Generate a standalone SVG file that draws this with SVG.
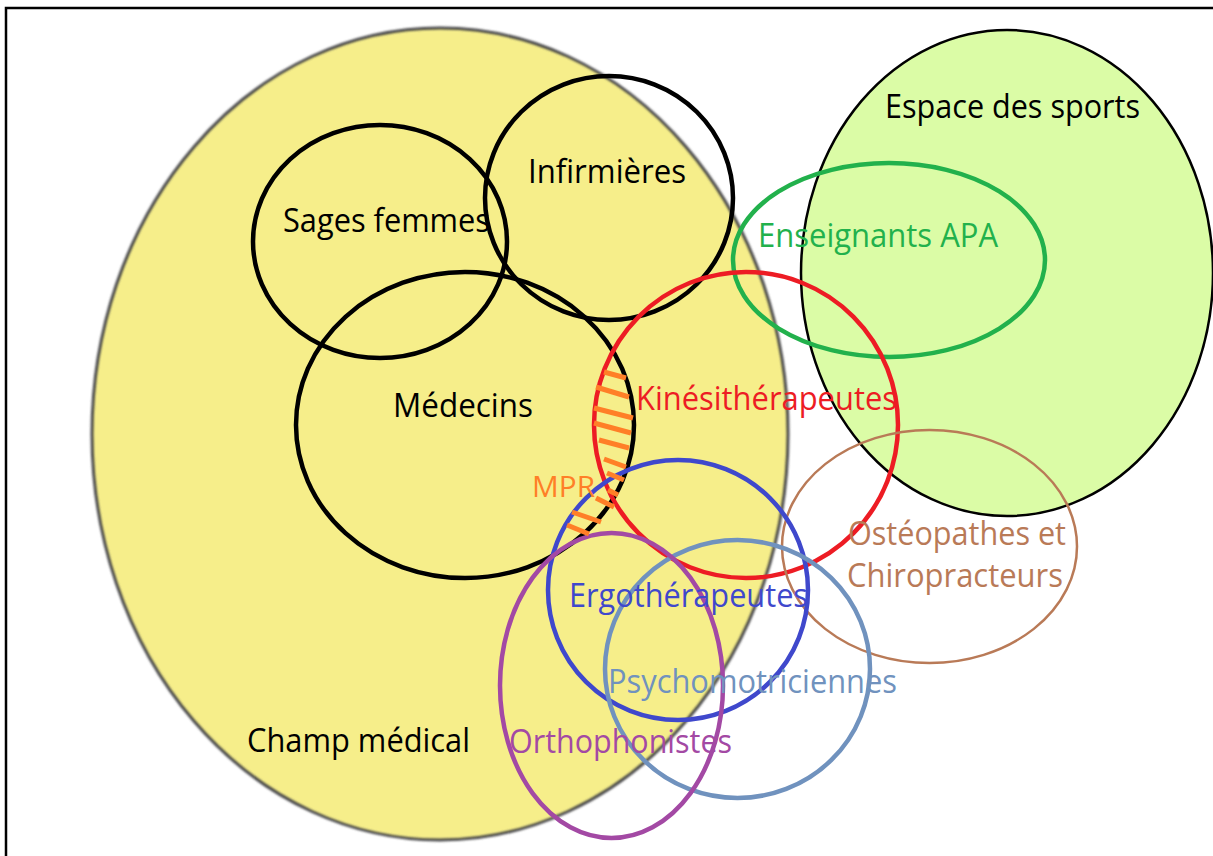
<svg xmlns="http://www.w3.org/2000/svg" width="1213" height="856" viewBox="0 0 1213 856">
<defs>
<filter id="soft" x="-5%" y="-5%" width="110%" height="110%"><feGaussianBlur stdDeviation="1.2"/></filter>
</defs>
<style>
text{font-family:"Open Sans","Noto Sans","Liberation Sans",sans-serif;font-size:32px}
.o{fill:none}
.blk{stroke:#000;stroke-width:4.5}
.hatch line{stroke:#ff7f27;stroke-width:5;stroke-linecap:butt}
</style>
<rect x="0" y="0" width="1213" height="856" fill="#fff"/>
<g id="frame"><path d="M6 856 V8 H1213" fill="none" stroke="#000" stroke-width="2.5"/></g>
<g id="champ-medical">
<ellipse cx="440" cy="434" rx="348" ry="406" fill="#f6ee8a"/>
<ellipse cx="440" cy="434" rx="348" ry="406" class="o" stroke="#4a4a4a" stroke-width="3" filter="url(#soft)"/>
</g>
<g id="espace-sports">
<ellipse cx="1007" cy="273" rx="206" ry="243" fill="#dbfca6" stroke="#000" stroke-width="2.5"/>
</g>
<g id="sages-femmes"><ellipse cx="380" cy="241.5" rx="127" ry="116.5" class="o blk"/></g>
<g id="infirmieres"><ellipse cx="609" cy="198" rx="124" ry="122" class="o blk"/></g>
<g id="medecins"><ellipse cx="465" cy="425" rx="169" ry="153" class="o blk"/></g>
<g id="enseignants-apa"><ellipse cx="889" cy="260" rx="156" ry="97" class="o" stroke="#22b14c" stroke-width="4.5"/></g>
<g id="kinesitherapeutes"><ellipse cx="746" cy="425" rx="152" ry="153" class="o" stroke="#ed1c24" stroke-width="4.5"/></g>
<g id="osteopathes"><ellipse cx="929.5" cy="546.5" rx="147.5" ry="116.5" class="o" stroke="#b97a57" stroke-width="2.5"/></g>
<g id="ergotherapeutes"><ellipse cx="678" cy="590" rx="130" ry="130" class="o" stroke="#3f48cc" stroke-width="4.5"/></g>
<g id="psychomotriciennes"><ellipse cx="737.5" cy="669" rx="132.5" ry="129" class="o" stroke="#7092be" stroke-width="4.5"/></g>
<g id="orthophonistes"><ellipse cx="611.5" cy="685.5" rx="111.5" ry="152.5" class="o" stroke="#a349a4" stroke-width="4.5"/></g>
<g id="mpr" class="hatch">
<line x1="604" y1="372" x2="626" y2="378"/>
<line x1="596" y1="387" x2="629" y2="397"/>
<line x1="594" y1="408" x2="633" y2="418"/>
<line x1="594" y1="423" x2="631" y2="433"/>
<line x1="599" y1="440" x2="629" y2="448"/>
<line x1="604" y1="459" x2="626" y2="467"/>
<line x1="607" y1="473" x2="624" y2="480"/>
<line x1="608" y1="490" x2="618" y2="495"/>
<line x1="596" y1="498" x2="614" y2="507"/>
<line x1="572" y1="512" x2="601" y2="522"/>
<line x1="567" y1="525" x2="589" y2="534"/>
</g>
<g id="labels">
<text x="885" y="118" textLength="255" lengthAdjust="spacingAndGlyphs" fill="#000">Espace des sports</text>
<text x="528" y="183" textLength="158" lengthAdjust="spacingAndGlyphs" fill="#000">Infirmières</text>
<text x="283" y="232" textLength="207" lengthAdjust="spacingAndGlyphs" fill="#000">Sages femmes</text>
<text x="393" y="417" textLength="140" lengthAdjust="spacingAndGlyphs" fill="#000">Médecins</text>
<text x="758" y="247" textLength="240" lengthAdjust="spacingAndGlyphs" fill="#22b14c">Enseignants APA</text>
<text x="636" y="410" textLength="261" lengthAdjust="spacingAndGlyphs" fill="#ed1c24">Kinésithérapeutes</text>
<text x="532" y="497" textLength="63" lengthAdjust="spacingAndGlyphs" fill="#ff7f27" style="font-size:29px">MPR</text>
<text x="848" y="545" textLength="218" lengthAdjust="spacingAndGlyphs" fill="#b97a57">Ostéopathes et</text>
<text x="847" y="587" textLength="216" lengthAdjust="spacingAndGlyphs" fill="#b97a57">Chiropracteurs</text>
<text x="569" y="607" textLength="239" lengthAdjust="spacingAndGlyphs" fill="#3f48cc">Ergothérapeutes</text>
<text x="608" y="693" textLength="289" lengthAdjust="spacingAndGlyphs" fill="#7092be">Psychomotriciennes</text>
<text x="509" y="753" textLength="223" lengthAdjust="spacingAndGlyphs" fill="#a349a4">Orthophonistes</text>
<text x="247" y="752" textLength="223" lengthAdjust="spacingAndGlyphs" fill="#000">Champ médical</text>
</g>
</svg>
